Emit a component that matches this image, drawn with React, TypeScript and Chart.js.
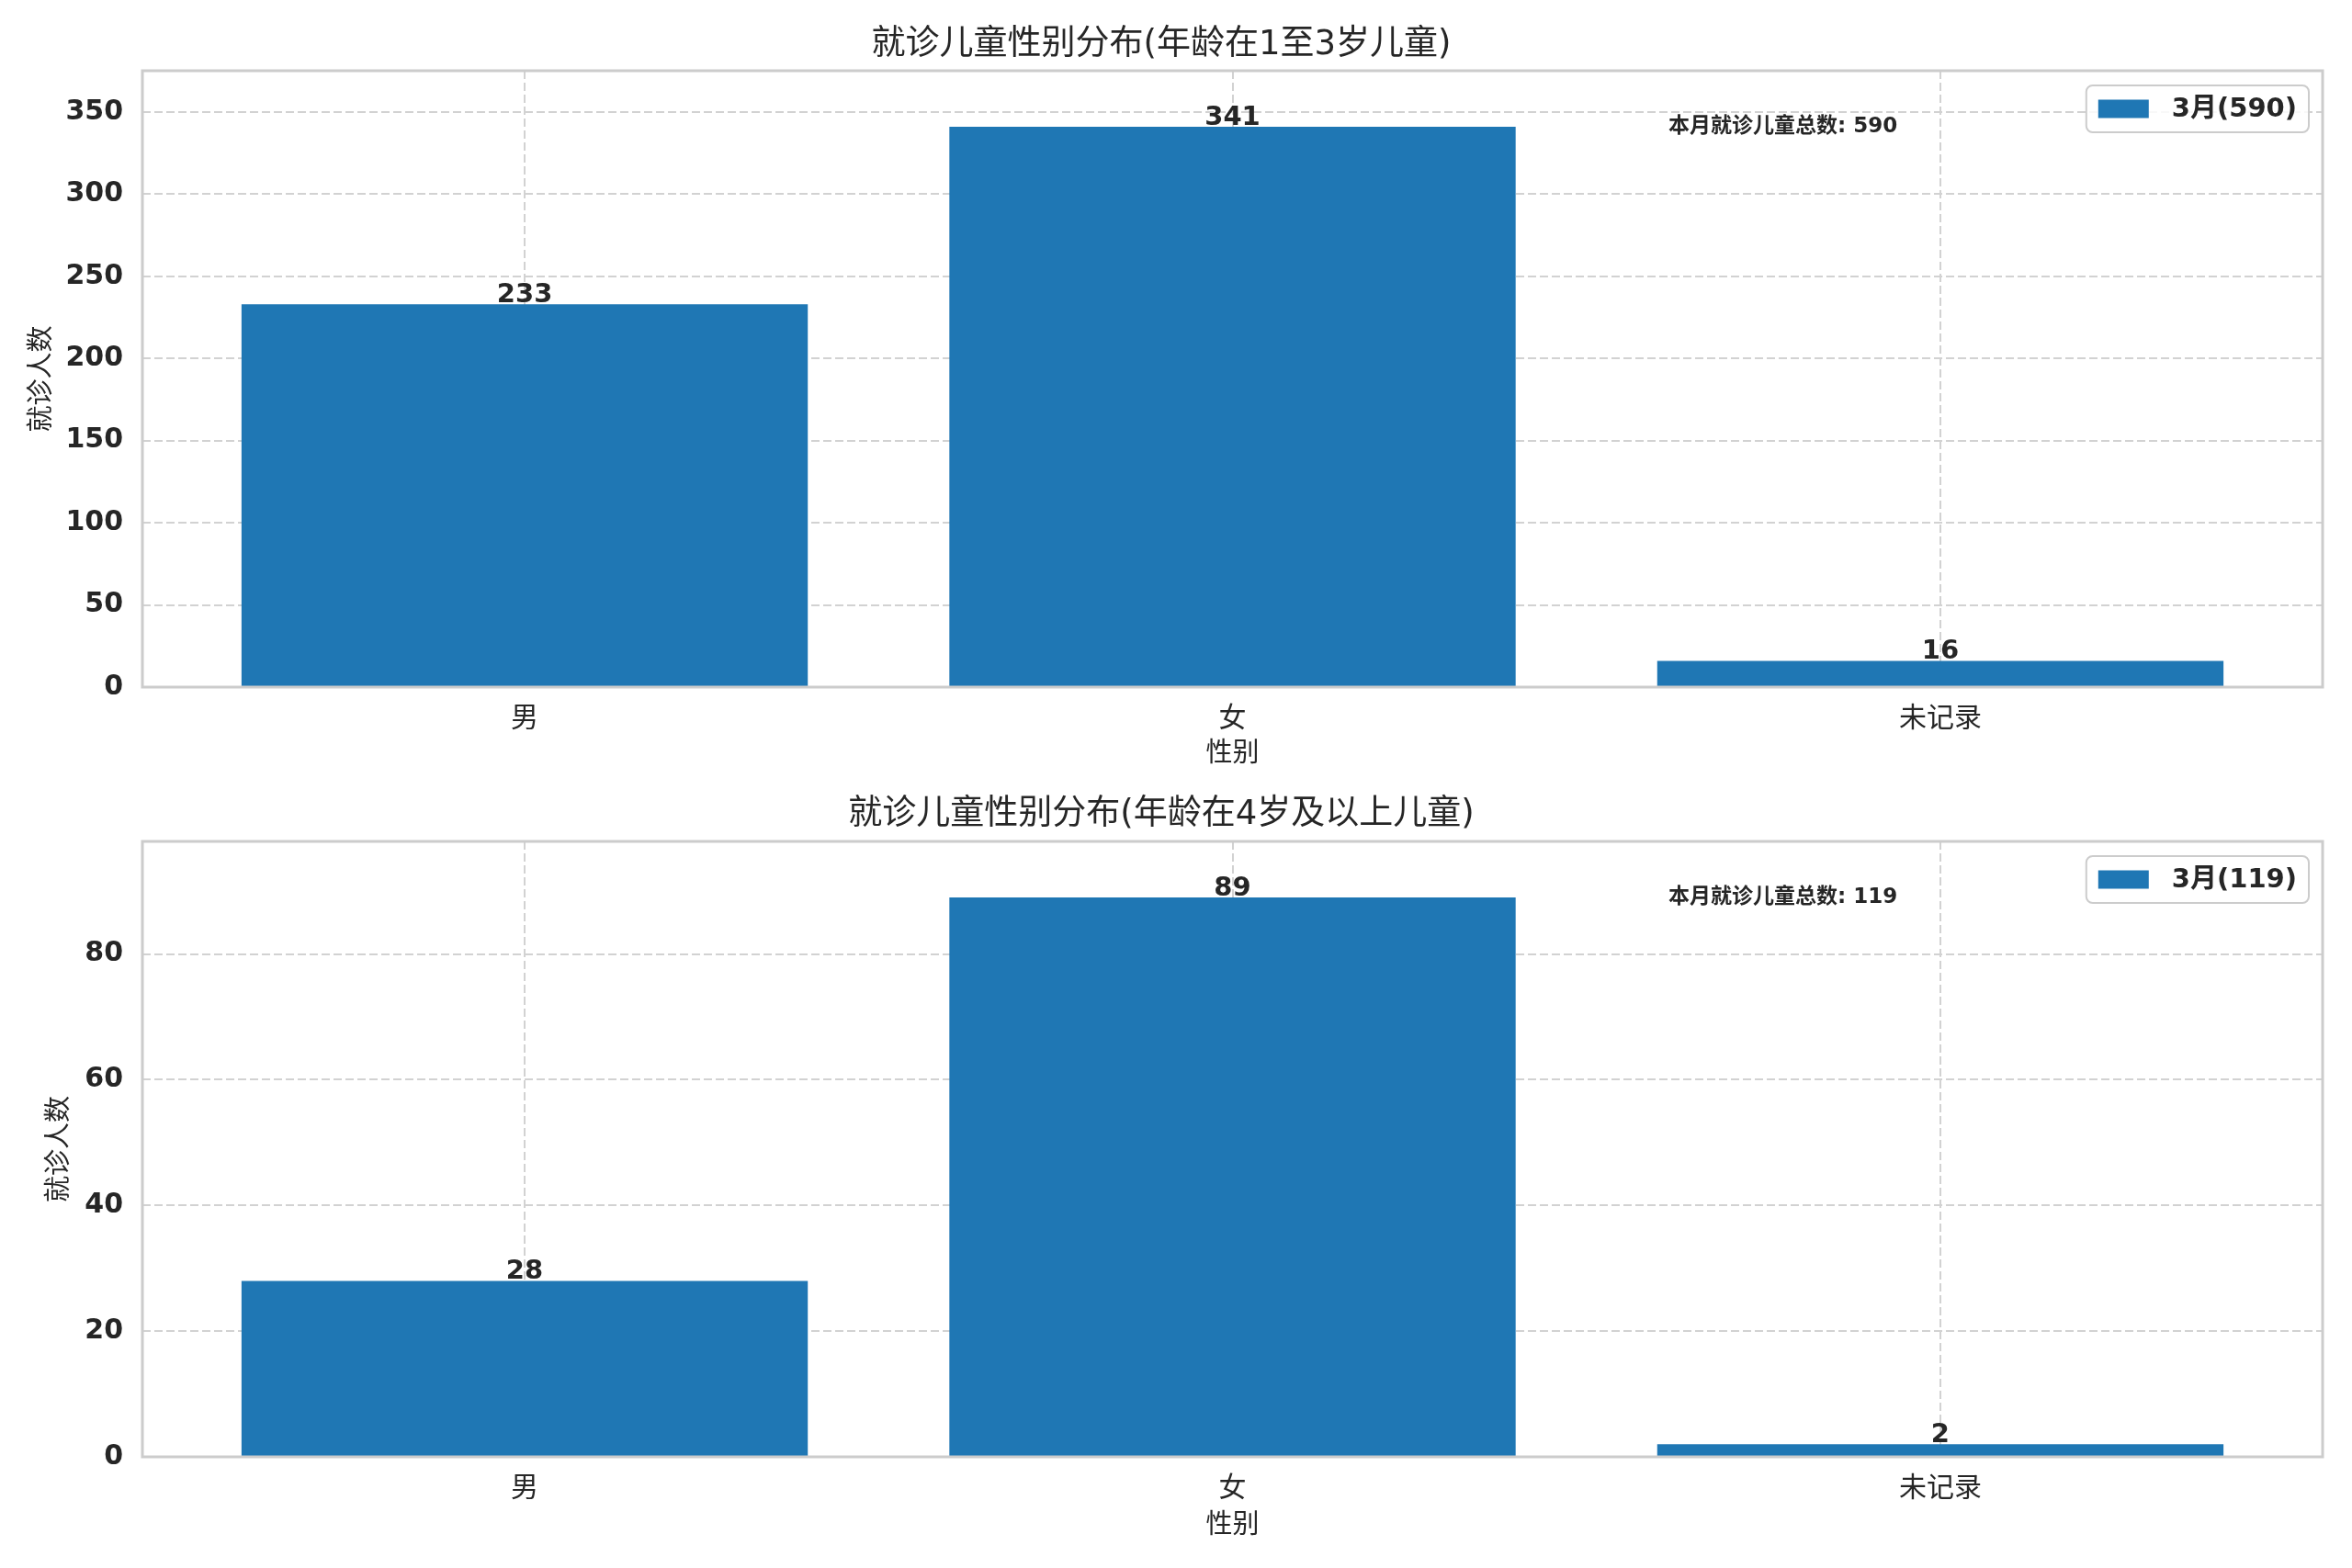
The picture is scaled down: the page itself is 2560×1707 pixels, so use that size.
import { useEffect, useRef } from "react";
import Chart from "chart.js/auto";

const categories = ["男", "女", "未记录"];
const youngCounts = [233, 341, 16];
const olderCounts = [28, 89, 2];
const youngTitle = "就诊儿童性别分布(年龄在1至3岁儿童)";
const olderTitle = "就诊儿童性别分布(年龄在4岁及以上儿童)";
const yLabel = "就诊人数";
const xLabel = "性别";
const monthLabel = "3月";
const noteLabel = "本月就诊儿童总数";
const youngStep = 50;
const olderStep = 20;

const FONT = "'DejaVu Sans', 'Noto Sans CJK SC', sans-serif";
const INK = "#262626";
const GRID = "#d2d2d2";
const SPINE = "#cccccc";
const BAR = "#1f77b4";

type Panel = {
  title: string;
  values: number[];
  step: number;
  height: number;
  titleY: number;
  top: number;
  bottom: number;
  xTitleY: number;
  yTitleX: number;
};

const BarPanel = ({ panel }: { panel: Panel }) => {
  const canvasRef = useRef<HTMLCanvasElement | null>(null);
  const chartRef = useRef<Chart | null>(null);

  useEffect(() => {
    if (!canvasRef.current) return;
    if (chartRef.current) chartRef.current.destroy();

    const { values } = panel;
    const total = values.reduce((a, b) => a + b, 0);
    const ymax = Math.max(...values) * 1.1;
    const titleLh = 37 * 1.2;
    const axisLh = 29 * 1.2;
    const xScaleHeight = 100;

    const decor = {
      id: "decor",
      afterDatasetsDraw(chart: Chart) {
        const ctx = chart.ctx;
        const { left, right, top, bottom } = chart.chartArea;
        ctx.save();

        // value labels on bars
        ctx.fillStyle = INK;
        ctx.font = `bold 29px ${FONT}`;
        ctx.textAlign = "center";
        ctx.textBaseline = "alphabetic";
        chart.getDatasetMeta(0).data.forEach((bar: any, i: number) => {
          ctx.fillText(String(values[i]), bar.x, bar.y - 2);
        });

        // axes frame
        ctx.strokeStyle = SPINE;
        ctx.lineWidth = 3;
        ctx.strokeRect(left, top, right - left, bottom - top);

        // total note
        const ny = chart.scales.y.getPixelForValue(Math.max(...values));
        ctx.font = `bold 23px ${FONT}`;
        ctx.textAlign = "left";
        ctx.textBaseline = "middle";
        ctx.fillText(`${noteLabel}: ${total}`, left + 0.7 * (right - left), ny);

        // legend
        const text = `${monthLabel}(${total})`;
        ctx.font = `bold 29px ${FONT}`;
        const tw = ctx.measureText(text).width;
        const bw = 13 + 55 + 25 + tw + 13;
        const bh = 51;
        const bx = right - 15 - bw;
        const by = top + 16;
        ctx.beginPath();
        ctx.roundRect(bx, by, bw, bh, 7);
        ctx.fillStyle = "rgba(255,255,255,0.85)";
        ctx.fill();
        ctx.strokeStyle = SPINE;
        ctx.lineWidth = 2;
        ctx.stroke();
        ctx.fillStyle = BAR;
        ctx.fillRect(bx + 13, by + bh / 2 - 10, 55, 20);
        ctx.fillStyle = INK;
        ctx.textBaseline = "middle";
        ctx.fillText(text, bx + 13 + 55 + 25, by + bh / 2 + 1);

        ctx.restore();
      },
    };

    chartRef.current = new Chart(canvasRef.current, {
      type: "bar",
      data: {
        datasets: [
          {
            label: monthLabel,
            data: values.map((v, i) => ({ x: i, y: v })),
            backgroundColor: BAR,
            borderWidth: 0,
            barPercentage: 0.8,
            categoryPercentage: 1,
          },
        ],
      },
      options: {
        animation: false,
        responsive: true,
        maintainAspectRatio: false,
        layout: {
          padding: {
            left: 0,
            right: 32,
            top: 0,
            bottom: panel.height - panel.bottom - xScaleHeight,
          },
        },
        plugins: {
          legend: { display: false },
          tooltip: { enabled: false },
          title: {
            display: true,
            text: panel.title,
            color: INK,
            font: { family: FONT, size: 37, weight: "normal" },
            padding: {
              top: panel.titleY - titleLh / 2,
              bottom: panel.top - panel.titleY - titleLh / 2,
            },
          },
        },
        scales: {
          x: {
            type: "linear",
            min: -0.54,
            max: 2.54,
            offset: false,
            afterBuildTicks: (s: any) => {
              s.ticks = categories.map((_, i) => ({ value: i }));
            },
            afterFit: (s: any) => {
              s.height = xScaleHeight;
            },
            ticks: {
              callback: (v: any) => categories[Math.round(Number(v))],
              color: INK,
              font: { family: FONT, size: 30 },
              padding: 17,
              maxRotation: 0,
            },
            grid: { color: GRID, lineWidth: 2, drawTicks: false, offset: false },
            border: { display: false, dash: [9, 4] },
            title: {
              display: true,
              text: xLabel,
              color: INK,
              font: { family: FONT, size: 29 },
              padding: {
                bottom: panel.bottom + xScaleHeight - panel.xTitleY - axisLh / 2,
              },
            },
          },
          y: {
            min: 0,
            max: ymax,
            afterFit: (s: any) => {
              s.width = 155;
            },
            ticks: {
              stepSize: panel.step,
              includeBounds: false,
              color: INK,
              font: { family: FONT, size: 30, weight: "bold" },
              padding: 21,
            },
            grid: { color: GRID, lineWidth: 2, drawTicks: false },
            border: { display: false, dash: [9, 4] },
            title: {
              display: true,
              text: yLabel,
              color: INK,
              font: { family: FONT, size: 29 },
              padding: { top: panel.yTitleX - axisLh / 2 },
            },
          },
        },
      },
      plugins: [decor],
    });

    return () => {
      if (chartRef.current) {
        chartRef.current.destroy();
        chartRef.current = null;
      }
    };
  }, [panel]);

  return (
    <div style={{ position: "relative", width: 2560, height: panel.height }}>
      <canvas ref={canvasRef}></canvas>
    </div>
  );
};

const topPanel: Panel = {
  title: youngTitle,
  values: youngCounts,
  step: youngStep,
  height: 853,
  titleY: 49,
  top: 77,
  bottom: 748,
  xTitleY: 821,
  yTitleX: 46,
};

const bottomPanel: Panel = {
  title: olderTitle,
  values: olderCounts,
  step: olderStep,
  height: 854,
  titleY: 34,
  top: 63,
  bottom: 733,
  xTitleY: 808,
  yTitleX: 65,
};

export default function App() {
  return (
    <div
      style={{
        position: "absolute",
        left: 0,
        top: 0,
        width: 2560,
        height: 1707,
        background: "#ffffff",
      }}
    >
      <BarPanel panel={topPanel} />
      <BarPanel panel={bottomPanel} />
    </div>
  );
}
